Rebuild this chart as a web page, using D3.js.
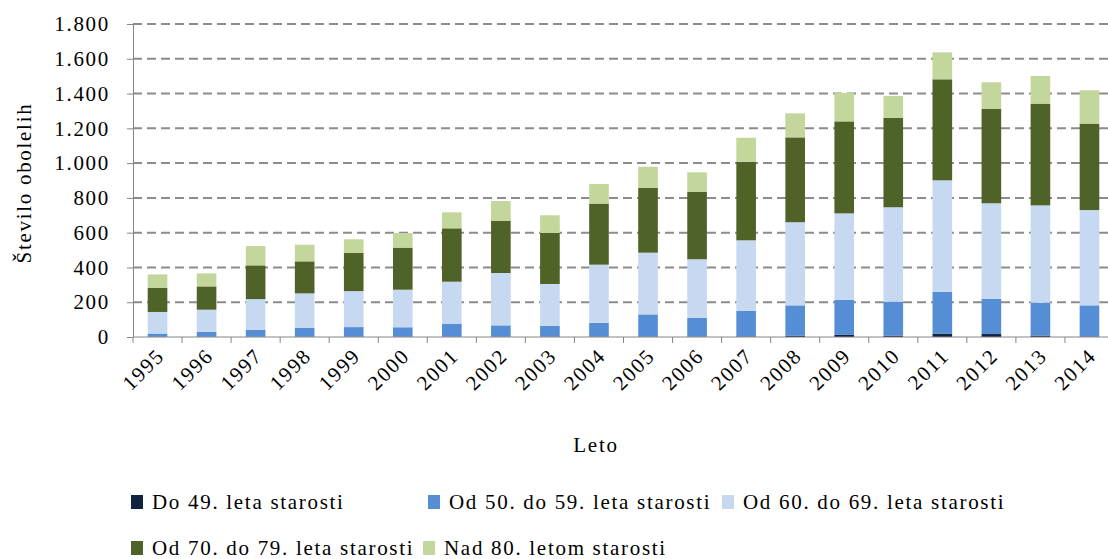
<!DOCTYPE html>
<html lang="sl">
<head>
  <meta charset="UTF-8">
  <title>Število obolelih po starostnih skupinah</title>
  <script src="https://d3js.org/d3.v7.min.js"></script>
  <style>
    body {
      margin: 0;
      background-color: #fff;
    }
    svg text {
      font-family: "Liberation Serif", "Times New Roman", serif;
      font-size: 21px;
      letter-spacing: 1.7px;
      fill: #000;
    }
  </style>
</head>
<body>
<div id="chart"></div>

<script>
  // Data
  const years = ["1995","1996","1997","1998","1999","2000","2001","2002","2003","2004",
                 "2005","2006","2007","2008","2009","2010","2011","2012","2013","2014"];
  const do49   = [2, 1, 1, 2, 2, 2, 2, 2, 1, 2, 2, 2, 3, 8, 12, 8, 18, 17, 8, 3];
  const od50   = [18, 28, 41, 50, 55, 54, 75, 65, 64, 80, 128, 109, 148, 174, 201, 195, 242, 203, 189, 179];
  const od60   = [124, 128, 176, 199, 207, 216, 241, 301, 240, 334, 355, 336, 405, 478, 498, 543, 641, 549, 560, 548];
  const od70   = [138, 134, 194, 184, 219, 242, 307, 301, 293, 351, 372, 387, 452, 488, 529, 515, 581, 544, 585, 497];
  const nad80  = [78, 75, 111, 96, 79, 84, 92, 113, 102, 113, 122, 113, 138, 138, 163, 125, 155, 152, 159, 192];
  const seriesNames = ["Do 49. leta starosti", "Od 50. do 59. leta starosti", "Od 60. do 69. leta starosti",
                       "Od 70. do 79. leta starosti", "Nad 80. letom starosti"];
  const yTicks = [0, 200, 400, 600, 800, 1000, 1200, 1400, 1600, 1800];

  const colors = ["#10243f", "#558ed5", "#c6d9f1", "#4f6228", "#c3d69b"];

  const width = 1108, height = 559;
  const margin = { top: 24, left: 133, right: -6, bottom: 222 };

  const svg = d3.select("#chart").append("svg")
    .attr("width", width)
    .attr("height", height);

  const x = d3.scaleBand()
    .domain(years)
    .range([margin.left, width - margin.right])
    .paddingInner(0.6)
    .paddingOuter(0.3);

  const y = d3.scaleLinear()
    .domain([0, 1800])
    .range([height - margin.bottom, margin.top]);

  // rows for the stack
  const allSeries = [do49, od50, od60, od70, nad80];
  const rows = years.map((yr, i) => {
    const r = { year: yr };
    seriesNames.forEach((s, k) => { r[s] = allSeries[k][i]; });
    return r;
  });
  const stacked = d3.stack().keys(seriesNames)(rows);

  // gridlines
  svg.append("g")
    .selectAll("line")
    .data(yTicks.filter(t => t > 0))
    .join("line")
    .attr("x1", margin.left)
    .attr("x2", width - margin.right)
    .attr("y1", d => y(d))
    .attr("y2", d => y(d))
    .attr("stroke", "#8c8c8c")
    .attr("stroke-width", 2)
    .attr("stroke-dasharray", "9,5");

  // bars
  svg.append("g")
    .selectAll("g")
    .data(stacked)
    .join("g")
    .attr("fill", (d, i) => colors[i])
    .selectAll("rect")
    .data(d => d)
    .join("rect")
    .attr("x", d => x(d.data.year))
    .attr("width", x.bandwidth())
    .attr("y", d => y(d[1]))
    .attr("height", d => y(d[0]) - y(d[1]));

  // y axis
  const yAxis = svg.append("g")
    .attr("transform", `translate(${margin.left},0)`)
    .call(d3.axisLeft(y).tickValues(yTicks).tickSize(6).tickPadding(17)
      .tickFormat(d => d3.format(",")(d).replace(/,/g, ".")));
  yAxis.select(".domain").attr("stroke", "#868686");
  yAxis.selectAll(".tick line").attr("stroke", "#868686");
  yAxis.selectAll("text").attr("font-size", null).attr("font-family", null);

  // x axis: ticks sit between the categories
  const xAxisG = svg.append("g")
    .attr("transform", `translate(0,${y(0)})`);
  xAxisG.append("line")
    .attr("x1", margin.left).attr("x2", width - margin.right)
    .attr("stroke", "#868686");
  const step = x.step();
  const bounds = d3.range(years.length + 1).map(i => margin.left + i * step);
  xAxisG.selectAll(".tk")
    .data(bounds)
    .join("line")
    .attr("class", "tk")
    .attr("x1", d => d).attr("x2", d => d)
    .attr("y1", 0).attr("y2", 6)
    .attr("stroke", "#868686");
  xAxisG.selectAll(".lbl")
    .data(years)
    .join("text")
    .attr("class", "lbl")
    .attr("text-anchor", "end")
    .attr("transform", d => `translate(${x(d) + x.bandwidth() / 2 + 8},${20}) rotate(-45)`)
    .text(d => d);

  // axis titles
  svg.append("text")
    .attr("x", 596)
    .attr("y", 452)
    .attr("text-anchor", "middle")
    .text("Leto");

  svg.append("text")
    .attr("transform", `translate(31,${183}) rotate(-90)`)
    .attr("text-anchor", "middle")
    .text("Število obolelih");

  // legend
  const legendPos = [[131, 502], [428, 502], [722, 502], [131, 548], [423, 548]];
  const legend = svg.append("g")
    .selectAll("g")
    .data(seriesNames)
    .join("g")
    .attr("transform", (d, i) => `translate(${legendPos[i][0]},${legendPos[i][1]})`);
  legend.append("rect")
    .attr("x", 0).attr("y", -7)
    .attr("width", 12).attr("height", 14)
    .attr("fill", (d, i) => colors[i]);
  legend.append("text")
    .attr("x", 21)
    .attr("y", 7)
    .text(d => d);
</script>
</body>
</html>
